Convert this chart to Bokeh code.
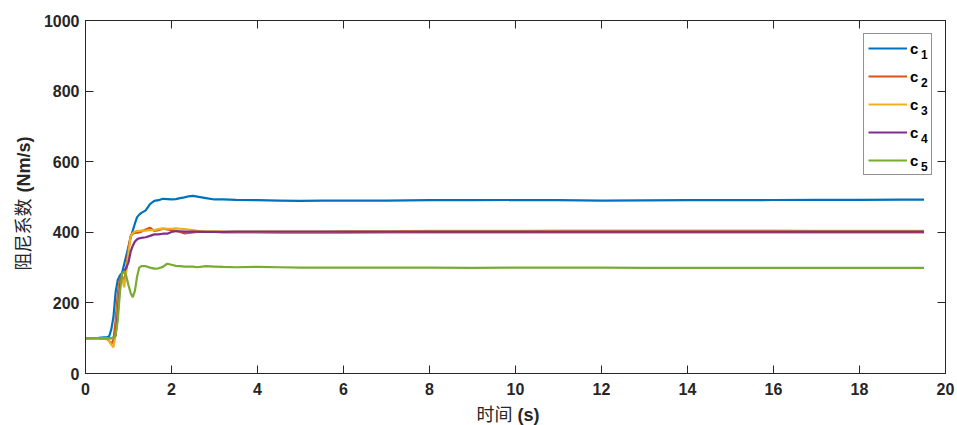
import math

from bokeh.embed import file_html
from bokeh.models import (ColumnDataSource, CustomLabelingPolicy, FixedTicker,
                          Label, Legend, LegendItem, LinearAxis, Range1d)
from bokeh.plotting import figure
from bokeh.resources import INLINE

# Time base (s)
time_s = [0, 0.3, 0.5, 0.55, 0.6, 0.65, 0.7, 0.75, 0.8, 0.85, 0.9, 0.95,
          1.0, 1.05, 1.1, 1.15, 1.2, 1.25, 1.3, 1.4, 1.5, 1.6, 1.7, 1.8,
          1.9, 2.0, 2.1, 2.2, 2.3, 2.4, 2.5, 2.6, 2.8, 3.0, 3.2, 3.5, 4.0,
          4.5, 5.0, 5.5, 6.0, 7.0, 8.0, 9.0, 10.0, 11.0, 12.0, 13.0, 14.0,
          15.0, 16.0, 17.0, 18.0, 19.0, 19.5]

# Damping coefficients (Nm/s)
c1 = [100, 101, 103, 105, 125, 160, 230, 265, 278, 285, 310, 335,
      360, 385, 405, 425, 443, 450, 455, 462, 480, 489, 491, 495,
      494, 493, 494, 497, 499, 502, 503, 501, 497, 493, 493, 492, 491,
      490, 489, 490, 490, 490, 491, 491, 491.5, 491, 490, 490.5, 491,
      491, 491.5, 492, 492, 492.5, 492.5]
c2 = [100, 100, 98, 92, 84, 95, 150, 226, 268, 277, 256, 300,
      355, 390, 396, 398, 399, 400, 402, 408, 413, 404, 406, 410,
      408, 406, 404, 401, 397, 398, 400, 401, 401, 401, 400, 400, 400,
      399, 399, 399, 399, 400, 400, 400, 400, 400, 400, 400, 400,
      400, 400, 400, 400, 400, 400]
c3 = [100, 100, 97, 92, 82, 74, 110, 187, 255, 272, 244, 290,
      340, 388, 398, 402, 404, 404, 405, 405, 406, 406, 409, 411,
      410, 410, 411, 410, 409, 408, 406, 404, 403, 403, 402, 402, 402,
      402, 402, 402, 403, 403, 404, 404, 404, 405, 405, 405, 405,
      405, 405, 404, 404, 404, 404]
c4 = [100, 100, 100, 100, 100, 102, 108, 170, 245, 283, 290, 300,
      315, 345, 362, 374, 380, 383, 384, 386, 390, 394, 394, 396,
      396, 401, 403, 403, 402, 402, 402, 402, 401, 401, 401, 402, 402,
      402, 402, 402, 402, 402, 402, 402, 402, 402, 402, 402, 402,
      402, 402, 402, 402, 402, 402]
c5 = [100, 100, 100, 100, 100, 100, 110, 150, 230, 282, 290, 275,
      250, 228, 216, 235, 275, 300, 304, 304, 300, 297, 298, 302,
      311, 308, 305, 304, 303, 303, 303, 301, 304, 303, 302, 301, 302,
      301, 300, 300, 300, 300, 300, 299, 300, 300, 300, 299, 299,
      299, 299, 299, 299, 299, 299]

series_keys = ["c1", "c2", "c3", "c4", "c5"]
series_subscripts = ["1", "2", "3", "4", "5"]
series_colors = ["#0072BD", "#D95319", "#EDB120", "#7E2F8E", "#77AC30"]
x_ticks = [0, 2, 4, 6, 8, 10, 12, 14, 16, 18, 20]
y_ticks = [0, 200, 400, 600, 800, 1000]

AX = "#262626"
SANS = "Liberation Sans"
# Latin metrics first keeps the text boxes compact; CJK glyphs fall back
CJK = "Liberation Sans, Noto Sans CJK SC"

W, H = 957, 425
LEFT, RIGHT, TOP, BOTTOM = 83, 12, 20, 52
X0, X1, Y0, Y1 = 0, 20, 0, 1000
frame_w = W - LEFT - RIGHT
frame_h = H - TOP - BOTTOM


def px_to_x(px):
    """Canvas x pixel -> data x."""
    return X0 + (px - LEFT) * (X1 - X0) / frame_w


def px_to_y(py):
    """Canvas y pixel (from top) -> data y."""
    return Y0 + (TOP + frame_h - py) * (Y1 - Y0) / frame_h


source = ColumnDataSource(dict(t=time_s, c1=c1, c2=c2, c3=c3, c4=c4, c5=c5))

p = figure(width=W, height=H, output_backend="svg", toolbar_location=None,
           x_range=Range1d(X0, X1), y_range=Range1d(Y0, Y1),
           min_border_left=LEFT, min_border_right=RIGHT,
           min_border_top=TOP, min_border_bottom=BOTTOM)
p.background_fill_color = "white"
p.border_fill_color = "white"
p.outline_line_color = AX
p.grid.visible = False


def style_axis(ax, ticks, label_size="16px"):
    ax.ticker = FixedTicker(ticks=ticks)
    ax.major_tick_in = 8
    ax.major_tick_out = 0
    ax.minor_tick_in = 0
    ax.minor_tick_out = 0
    ax.axis_line_color = AX
    ax.major_tick_line_color = AX
    ax.major_label_text_font = SANS
    ax.major_label_text_font_style = "bold"
    ax.major_label_text_font_size = label_size
    ax.major_label_text_color = AX
    ax.axis_label = None


style_axis(p.xaxis[0], x_ticks)
style_axis(p.yaxis[0], y_ticks)
p.xaxis[0].major_label_standoff = 9
p.yaxis[0].major_label_standoff = 6

# Mirrored tick marks on the top and right edges, without labels
no_labels = CustomLabelingPolicy(code="for (const i of indices) { indices.unset(i) }\nreturn indices")
for side, ticks in (("right", y_ticks), ("above", x_ticks)):
    mirror = LinearAxis()
    style_axis(mirror, ticks, label_size="0px")
    mirror.major_label_policy = no_labels
    mirror.major_label_standoff = 0
    p.add_layout(mirror, side)

items = []
for key, color in zip(series_keys, series_colors):
    r = p.line("t", key, source=source, line_color=color, line_width=2.2)
    items.append(LegendItem(label="c", renderers=[r]))

LEG_MARGIN, LEG_PAD, LEG_GLYPH_W, LEG_ITEM_H, LEG_SPACING = 13, 4, 39, 20, 8
LEG_STANDOFF, LEG_LABEL_W = 3, 17
legend = Legend(items=items, location="top_right", margin=LEG_MARGIN,
                border_line_color=AX, border_line_width=1,
                background_fill_alpha=0.0,
                padding=LEG_PAD, spacing=LEG_SPACING, glyph_width=LEG_GLYPH_W,
                glyph_height=LEG_ITEM_H, label_height=LEG_ITEM_H,
                label_width=LEG_LABEL_W, label_standoff=LEG_STANDOFF,
                label_text_font=SANS, label_text_font_style="bold",
                label_text_font_size="15px", label_text_color="black")
p.add_layout(legend)

# Subscript digits after each legend "c"
leg_right = W - RIGHT - LEG_MARGIN
leg_left = leg_right - (2 * LEG_PAD + LEG_GLYPH_W + LEG_STANDOFF + LEG_LABEL_W)
sub_px = leg_left + LEG_PAD + LEG_GLYPH_W + LEG_STANDOFF + 9.5
for i, digit in enumerate(series_subscripts):
    item_mid = TOP + LEG_MARGIN + LEG_PAD + LEG_ITEM_H / 2 + i * (LEG_ITEM_H + LEG_SPACING)
    p.add_layout(Label(x=px_to_x(sub_px), y=px_to_y(item_mid + 6.5), text=digit,
                       text_align="left", text_baseline="middle",
                       text_font=SANS, text_font_style="bold",
                       text_font_size="12px", text_color="black",
                       level="overlay"))

# Axis titles: Chinese part in regular weight, unit part in bold.
# They sit in the side panels so the frame does not clip them.
ylab_x = px_to_x(21)
p.add_layout(Label(x=ylab_x, y=px_to_y(270), text="阻尼系数", angle=math.pi / 2,
                   text_align="left", text_baseline="middle",
                   text_font=CJK, text_font_size="18px", text_color=AX), "left")
p.add_layout(Label(x=ylab_x, y=px_to_y(192), text="(Nm/s)", angle=math.pi / 2,
                   text_align="left", text_baseline="middle",
                   text_font=SANS, text_font_style="bold",
                   text_font_size="18px", text_color=AX), "left")
xlab_y = px_to_y(414)
p.add_layout(Label(x=px_to_x(511), y=xlab_y, text="时间", text_align="right",
                   text_baseline="middle", text_font=CJK,
                   text_font_size="18px", text_color=AX), "below")
p.add_layout(Label(x=px_to_x(516), y=xlab_y, text="(s)", text_align="left",
                   text_baseline="middle", text_font=SANS,
                   text_font_style="bold", text_font_size="18px",
                   text_color=AX), "above")

open("out.html", "w").write(file_html(p, INLINE))
